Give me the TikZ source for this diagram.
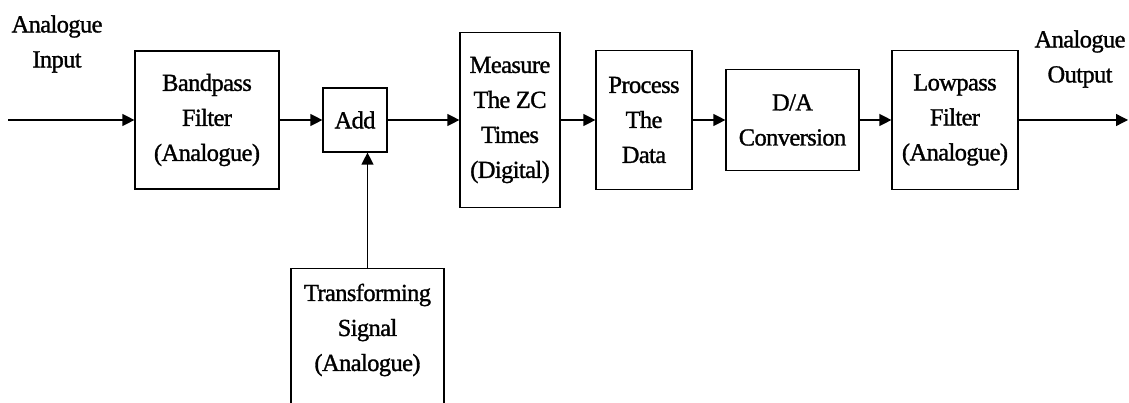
\documentclass[tikz,border=0pt]{standalone}
\usepackage{fontspec}
\setmainfont[FakeBold=1.2,LetterSpace=-2.5]{Liberation Serif}
\usetikzlibrary{arrows.meta}
\begin{document}
\begin{tikzpicture}[x=1pt,y=-1pt,
  txtfont/.style={font=\fontsize{24.5}{35}\selectfont},
  box/.style={draw, line width=1.2pt, inner sep=0pt, align=center, txtfont},
  lbl/.style={align=center, inner sep=0pt, txtfont},
  conn/.style={line width=1.3pt, -{Triangle[length=12pt,width=12pt]}}]
\useasboundingbox (0,0) rectangle (1129,403);
\clip (0,0) rectangle (1129,403);
\node[box, minimum width=144pt, minimum height=138pt] (bp) at (207,120) {Bandpass\\Filter\\(Analogue)};
\node[box, minimum width=64pt, minimum height=64pt] (add) at (355,120) {Add};
\node[box, minimum width=100pt, minimum height=175pt] (meas) at (510,120) {Measure\\The ZC\\Times\\(Digital)};
\node[box, minimum width=96pt, minimum height=139pt] (proc) at (644,120) {Process\\The\\Data};
\node[box, minimum width=133pt, minimum height=101pt] (da) at (792.5,120) {D/A\\Conversion};
\node[box, minimum width=126pt, minimum height=139pt] (lp) at (955,120) {Lowpass\\Filter\\(Analogue)};
\node[box, minimum width=153pt, minimum height=200pt, anchor=north] (tsbox) at (367.5,268) {};
\node[lbl] (ts) at (367.5,330) {Transforming\\Signal\\(Analogue)};
\node[lbl] (inlbl) at (57,44) {Analogue\\Input};
\node[lbl] (outlbl) at (1080,59) {Analogue\\Output};
\coordinate (in) at (8,120);
\coordinate (out) at (1128,120);
\draw[conn] (in) -- (bp.west);
\draw[conn] (bp.east) -- (add.west);
\draw[conn] (add.east) -- (meas.west);
\draw[conn] (meas.east) -- (proc.west);
\draw[conn] (proc.east) -- (da.west);
\draw[conn] (da.east) -- (lp.west);
\draw[conn] (lp.east) -- (out);
\draw[conn] (tsbox.north) -- (tsbox.north |- add.south);
\end{tikzpicture}
\end{document}
